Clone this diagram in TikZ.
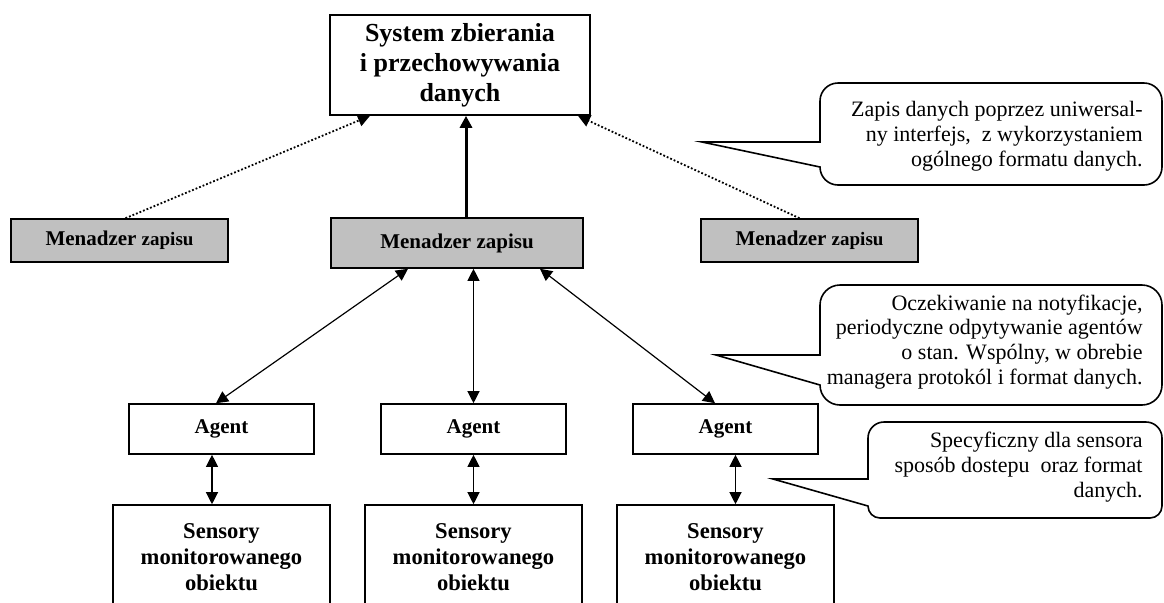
\documentclass[tikz,border=0pt]{standalone}
\usepackage{fontspec}
\setmainfont{Liberation Serif}
\usetikzlibrary{arrows.meta,positioning}

\definecolor{mgrgray}{RGB}{192,192,192}

\tikzset{
  box/.style={draw, line width=0.8pt, inner sep=0pt, align=center,
              font=\fontsize{10.5}{12.5}\selectfont\bfseries},
  sysbox/.style={box, minimum width=130pt, minimum height=50pt,
                 font=\fontsize{13}{15}\selectfont\bfseries},
  mgrbox/.style={box, fill=mgrgray, minimum width=108.5pt, minimum height=21.5pt},
  agentbox/.style={box, minimum width=92.5pt, minimum height=25pt},
  sensorbox/.style={box, minimum width=108.5pt, minimum height=52pt,
                    font=\fontsize{11.3}{13}\selectfont\bfseries},
  note/.style={draw, line width=0.8pt, fill=white},
  notetext/.style={align=right, anchor=east, inner sep=0pt,
                   font=\fontsize{11}{12.4}\selectfont},
  link/.style={<->, line width=0.6pt}
}

\begin{document}
\begin{tikzpicture}[x=0.5pt, y=0.5pt, node distance=126pt,
                    >={Triangle[length=6pt,width=6pt]}]
  \useasboundingbox (0,0) rectangle (1164,-602);

  \node[sysbox]   (sys)  at (460,-65)    {System zbierania\\i przechowywania\\danych};
  \node[mgrbox]   (mgrL) at (119.5,-240.5) {Menadzer {\fontsize{9.5}{11}\selectfont zapisu}};
  \node[mgrbox, minimum width=126pt, minimum height=25pt]
                  (mgrC) at (457,-243)   {Menadzer zapisu};
  \node[mgrbox]   (mgrR) at (809.5,-240.5) {Menadzer {\fontsize{9.5}{11}\selectfont zapisu}};

  \node[agentbox] (ag2)  at (473.5,-429) {Agent};
  \node[agentbox] (ag1)  [left of=ag2]   {Agent};
  \node[agentbox] (ag3)  [right of=ag2]  {Agent};

  \node[sensorbox] (sen1) [below of=ag1, node distance=64pt] {Sensory\\monitorowanego\\obiektu};
  \node[sensorbox] (sen2) [below of=ag2, node distance=64pt] {Sensory\\monitorowanego\\obiektu};
  \node[sensorbox] (sen3) [below of=ag3, node distance=64pt] {Sensory\\monitorowanego\\obiektu};

  % managers -> storage
  \draw[->, line width=1.5pt] ([xshift=4.5pt]mgrC.north) -- ([xshift=4.5pt]mgrC.north |- sys.south);
  \draw[->, densely dotted, line width=0.9pt] ([xshift=3pt]mgrL.north) -- ([xshift=-45pt]sys.south);
  \draw[->, densely dotted, line width=0.9pt] ([xshift=-5pt]mgrR.north) -- ([xshift=59pt]sys.south);

  % manager <-> agents
  \draw[link] ([xshift=-24.5pt]mgrC.south) -- ([xshift=-2.75pt]ag1.north);
  \draw[link] (ag2.north |- mgrC.south) -- (ag2.north);
  \draw[link] ([xshift=41.5pt]mgrC.south) -- ([xshift=-5.25pt]ag3.north);

  % agents <-> sensors
  \draw[link] ([xshift=-4.75pt]ag1.south) -- ([xshift=-4.75pt]ag1.south |- sen1.north);
  \draw[link] (ag2.south) -- (sen2.north);
  \draw[link] ([xshift=5pt]ag3.south) -- ([xshift=5pt]ag3.south |- sen3.north);

  % callouts
  \draw[note] (702,-142) -- (820,-167) -- (820,-167)
      arc[start angle=180, end angle=270, radius=9pt] -- (1144,-185)
      arc[start angle=270, end angle=360, radius=9pt] -- (1162,-101)
      arc[start angle=0, end angle=90, radius=9pt] -- (838,-83)
      arc[start angle=90, end angle=180, radius=9pt] -- (820,-142) -- cycle;
  \node[notetext] (note1) at (1143,-136)
    {Zapis danych poprzez uniwersal-\\ny interfejs,~ z wykorzystaniem\\og\'olnego formatu danych.};

  \draw[note] (716,-355) -- (820,-385) -- (820,-385)
      arc[start angle=180, end angle=270, radius=10pt] -- (1142,-405)
      arc[start angle=270, end angle=360, radius=10pt] -- (1162,-305)
      arc[start angle=0, end angle=90, radius=10pt] -- (840,-285)
      arc[start angle=90, end angle=180, radius=10pt] -- (820,-355) -- cycle;
  \node[notetext] (note2) at (1143,-342)
    {Oczekiwanie na notyfikacje,\\periodyczne odpytywanie agent\'ow\\o stan. Wsp\'olny, w obrebie\\managera protok\'ol i format danych.};

  \draw[note] (773,-479) -- (868,-506)
      arc[start angle=180, end angle=270, radius=6pt] -- (1150,-518)
      arc[start angle=270, end angle=360, radius=6pt] -- (1162,-438)
      arc[start angle=0, end angle=90, radius=8pt] -- (884,-422)
      arc[start angle=90, end angle=180, radius=8pt] -- (868,-479) -- cycle;
  \node[notetext] (note3) at (1143,-467)
    {Specyficzny dla sensora\\spos\'ob dostepu~ oraz format\\danych.};
\end{tikzpicture}
\end{document}
